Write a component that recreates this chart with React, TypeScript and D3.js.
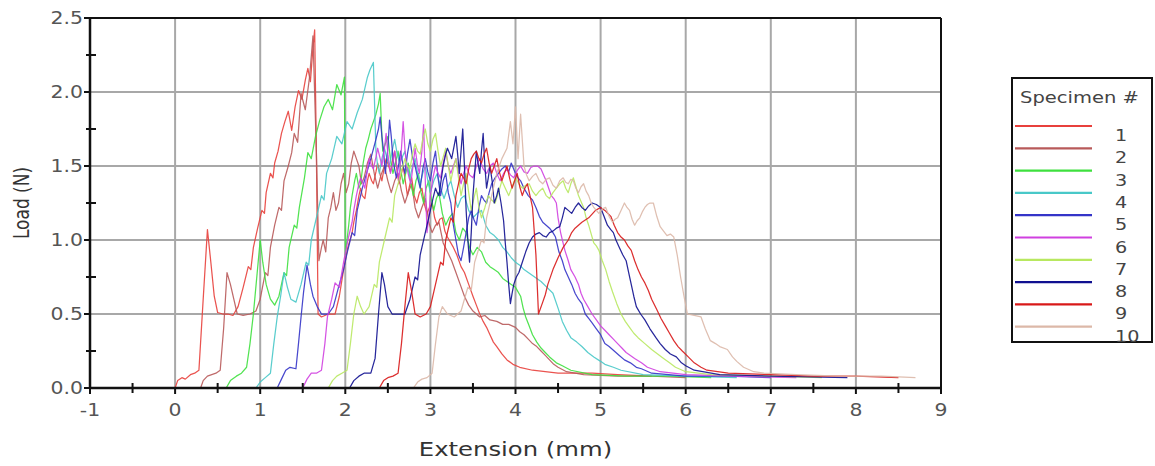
import React from "react";
import * as d3 from "d3";

const specimenLabels = ["1", "2", "3", "4", "5", "6", "7", "8", "9", "10"];
const specimenColors = ["#e8403c", "#b85a5a", "#3ee03e", "#48c8c8", "#3434c8", "#d040e0", "#b8e860", "#101090", "#d81818", "#dcb8a8"];

const xTicks = [-1, 0, 1, 2, 3, 4, 5, 6, 7, 8, 9];
const yTicks = [0, 0.5, 1.0, 1.5, 2.0, 2.5];

const spec1: [number, number][] = [[0,0.0],[0.03,0.05],[0.08,0.07],[0.12,0.06],[0.18,0.09],[0.23,0.1],[0.28,0.12],[0.33,0.6],[0.38,1.07],[0.42,0.85],[0.46,0.62],[0.5,0.51],[0.56,0.5],[0.62,0.5],[0.68,0.49],[0.74,0.55],[0.8,0.68],[0.86,0.82],[0.89,0.8],[0.92,0.95],[0.97,1.08],[1.02,1.2],[1.05,1.18],[1.07,1.32],[1.12,1.45],[1.15,1.42],[1.17,1.52],[1.21,1.6],[1.25,1.72],[1.29,1.8],[1.33,1.87],[1.37,1.74],[1.41,1.9],[1.45,2.01],[1.49,1.95],[1.53,2.08],[1.56,2.16],[1.59,2.07],[1.62,2.3],[1.64,2.42],[1.66,1.6],[1.68,0.5],[1.72,0.48],[1.8,0.5],[1.88,0.5],[1.93,0.62],[1.98,0.8],[2.03,0.95],[2.08,1.05],[2.1,1.12],[2.13,1.2],[2.16,1.3],[2.18,1.35],[2.2,1.3],[2.23,1.28],[2.26,1.4],[2.28,1.45],[2.31,1.4],[2.33,1.38],[2.36,1.46],[2.38,1.52],[2.41,1.44],[2.43,1.4],[2.46,1.5],[2.48,1.55],[2.51,1.5],[2.53,1.46],[2.56,1.55],[2.58,1.6],[2.61,1.46],[2.63,1.38],[2.66,1.45],[2.68,1.5],[2.71,1.38],[2.73,1.3],[2.76,1.38],[2.78,1.42],[2.81,1.3],[2.84,1.25],[2.87,1.32],[2.9,1.35],[2.93,1.24],[2.96,1.18],[2.99,1.22],[3.02,1.25],[3.05,1.15],[3.08,1.1],[3.11,1.14],[3.14,1.15],[3.17,1.06],[3.2,1.02],[3.27,0.95],[3.31,0.9],[3.36,0.82],[3.4,0.78],[3.45,0.7],[3.5,0.62],[3.54,0.56],[3.58,0.5],[3.62,0.45],[3.66,0.41],[3.7,0.36],[3.74,0.31],[3.78,0.28],[3.84,0.23],[3.9,0.19],[3.97,0.16],[4.05,0.14],[4.2,0.12],[4.35,0.11],[4.5,0.1],[4.7,0.1],[4.9,0.1],[5.2,0.09],[5.6,0.08]];

const spec2: [number, number][] = [[0.3,0],[0.33,0.05],[0.38,0.08],[0.43,0.09],[0.48,0.1],[0.53,0.12],[0.57,0.4],[0.61,0.78],[0.65,0.7],[0.69,0.6],[0.73,0.5],[0.8,0.49],[0.88,0.5],[0.95,0.52],[1.0,0.6],[1.06,0.78],[1.09,0.76],[1.12,0.95],[1.17,1.1],[1.22,1.22],[1.25,1.2],[1.28,1.4],[1.33,1.5],[1.37,1.59],[1.4,1.72],[1.44,1.66],[1.48,1.99],[1.53,1.88],[1.58,2.1],[1.62,2.38],[1.66,1.6],[1.69,0.86],[1.72,0.95],[1.74,1.0],[1.77,0.92],[1.8,1.15],[1.83,1.22],[1.86,1.32],[1.89,1.2],[1.92,1.25],[1.95,1.38],[1.98,1.45],[2.01,1.32],[2.04,1.38],[2.07,1.52],[2.1,1.6],[2.13,1.55],[2.16,1.5],[2.19,1.38],[2.22,1.42],[2.26,1.52],[2.3,1.58],[2.34,1.45],[2.38,1.35],[2.42,1.44],[2.46,1.5],[2.5,1.4],[2.54,1.32],[2.58,1.4],[2.62,1.45],[2.66,1.33],[2.7,1.25],[2.74,1.32],[2.78,1.38],[2.82,1.22],[2.86,1.15],[2.9,1.22],[2.94,1.28],[2.98,1.12],[3.02,1.05],[3.06,1.1],[3.1,1.12],[3.15,0.98],[3.2,0.92],[3.25,0.86],[3.3,0.78],[3.35,0.7],[3.4,0.62],[3.45,0.56],[3.5,0.52],[3.58,0.48],[3.64,0.49],[3.7,0.46],[3.78,0.45],[3.85,0.43],[3.92,0.43],[4.0,0.41],[4.05,0.38],[4.1,0.36],[4.15,0.33],[4.2,0.3],[4.25,0.28],[4.3,0.25],[4.35,0.22],[4.4,0.19],[4.45,0.16],[4.5,0.14],[4.6,0.11],[4.8,0.09],[5.2,0.08],[5.6,0.08],[6.0,0.07]];

const spec3: [number, number][] = [[0.6,0],[0.65,0.05],[0.72,0.08],[0.78,0.1],[0.84,0.14],[0.88,0.3],[0.92,0.5],[0.96,0.75],[1.0,1.0],[1.03,0.85],[1.07,0.7],[1.12,0.6],[1.17,0.56],[1.22,0.62],[1.28,0.78],[1.31,0.76],[1.34,0.95],[1.4,1.1],[1.43,1.08],[1.46,1.22],[1.52,1.42],[1.56,1.59],[1.6,1.55],[1.65,1.7],[1.7,1.81],[1.75,1.9],[1.8,1.95],[1.85,1.88],[1.9,2.05],[1.95,1.98],[1.99,2.1],[2.0,0.9],[2.02,1.0],[2.04,1.1],[2.06,1.22],[2.08,1.3],[2.11,1.4],[2.13,1.45],[2.16,1.35],[2.18,1.38],[2.21,1.52],[2.24,1.62],[2.27,1.68],[2.3,1.75],[2.33,1.8],[2.36,1.85],[2.39,1.92],[2.41,1.99],[2.43,1.7],[2.44,1.6],[2.47,1.65],[2.5,1.7],[2.53,1.55],[2.56,1.45],[2.59,1.52],[2.62,1.6],[2.65,1.48],[2.68,1.38],[2.71,1.45],[2.74,1.52],[2.77,1.38],[2.8,1.3],[2.83,1.4],[2.86,1.45],[2.89,1.32],[2.92,1.25],[2.95,1.35],[2.98,1.4],[3.01,1.28],[3.04,1.2],[3.07,1.28],[3.1,1.32],[3.14,1.18],[3.18,1.1],[3.22,1.15],[3.26,1.18],[3.3,1.05],[3.34,1.0],[3.38,1.08],[3.42,1.05],[3.46,0.95],[3.5,0.9],[3.55,0.95],[3.6,0.92],[3.65,0.85],[3.7,0.82],[3.75,0.8],[3.8,0.78],[3.85,0.74],[3.9,0.72],[3.95,0.7],[4.0,0.68],[4.06,0.62],[4.09,0.54],[4.12,0.48],[4.16,0.42],[4.2,0.36],[4.25,0.31],[4.3,0.27],[4.35,0.24],[4.4,0.21],[4.48,0.17],[4.55,0.15],[4.65,0.12],[4.9,0.09],[5.3,0.08],[5.8,0.08],[6.3,0.07]];

const spec4: [number, number][] = [[0.95,0],[1.0,0.04],[1.06,0.07],[1.12,0.1],[1.16,0.3],[1.2,0.48],[1.24,0.62],[1.28,0.78],[1.32,0.68],[1.36,0.6],[1.42,0.58],[1.48,0.7],[1.54,0.85],[1.57,0.83],[1.6,1.0],[1.66,1.15],[1.72,1.3],[1.75,1.27],[1.78,1.45],[1.84,1.55],[1.9,1.7],[1.96,1.65],[2.02,1.8],[2.08,1.75],[2.14,1.86],[2.2,1.95],[2.26,2.1],[2.29,2.15],[2.33,2.2],[2.35,1.8],[2.36,1.6],[2.38,1.5],[2.4,1.45],[2.43,1.55],[2.46,1.62],[2.49,1.55],[2.52,1.5],[2.55,1.6],[2.58,1.68],[2.61,1.58],[2.64,1.52],[2.67,1.56],[2.7,1.6],[2.73,1.5],[2.76,1.42],[2.79,1.5],[2.82,1.55],[2.85,1.45],[2.88,1.38],[2.91,1.45],[2.94,1.5],[2.97,1.4],[3.0,1.32],[3.04,1.4],[3.08,1.45],[3.12,1.35],[3.16,1.28],[3.2,1.35],[3.24,1.4],[3.28,1.3],[3.32,1.22],[3.36,1.28],[3.4,1.3],[3.45,1.2],[3.5,1.15],[3.55,1.18],[3.6,1.2],[3.65,1.1],[3.7,1.05],[3.75,1.03],[3.8,1.0],[3.85,0.95],[3.9,0.92],[3.95,0.88],[4.0,0.85],[4.05,0.83],[4.1,0.8],[4.15,0.78],[4.2,0.76],[4.25,0.74],[4.3,0.72],[4.37,0.68],[4.44,0.64],[4.5,0.54],[4.55,0.45],[4.6,0.39],[4.65,0.34],[4.72,0.31],[4.78,0.28],[4.85,0.24],[4.92,0.21],[5.0,0.18],[5.05,0.16],[5.15,0.14],[5.24,0.12],[5.5,0.09],[6.0,0.08],[6.6,0.07]];

const spec5: [number, number][] = [[1.2,0],[1.25,0.06],[1.3,0.12],[1.35,0.14],[1.42,0.13],[1.45,0.3],[1.48,0.48],[1.51,0.65],[1.55,0.83],[1.59,0.7],[1.62,0.62],[1.67,0.55],[1.72,0.5],[1.8,0.5],[1.86,0.55],[1.92,0.68],[1.98,0.8],[2.02,0.91],[2.08,1.05],[2.11,1.03],[2.14,1.2],[2.2,1.35],[2.25,1.45],[2.3,1.55],[2.36,1.68],[2.39,1.75],[2.41,1.83],[2.43,1.7],[2.45,1.6],[2.47,1.45],[2.5,1.62],[2.52,1.81],[2.54,1.7],[2.56,1.55],[2.58,1.48],[2.6,1.42],[2.63,1.52],[2.65,1.6],[2.68,1.5],[2.7,1.45],[2.73,1.58],[2.76,1.68],[2.79,1.56],[2.82,1.5],[2.85,1.42],[2.88,1.35],[2.91,1.48],[2.94,1.55],[2.97,1.46],[3.0,1.4],[3.03,1.52],[3.06,1.6],[3.09,1.42],[3.12,1.3],[3.15,1.4],[3.18,1.45],[3.21,1.32],[3.24,1.25],[3.27,1.1],[3.3,1.0],[3.33,0.9],[3.36,0.86],[3.39,0.95],[3.42,1.05],[3.45,1.15],[3.48,1.2],[3.51,1.14],[3.54,1.1],[3.57,1.22],[3.6,1.3],[3.63,1.27],[3.66,1.25],[3.69,1.32],[3.72,1.38],[3.76,1.42],[3.8,1.45],[3.84,1.48],[3.88,1.5],[3.92,1.46],[3.95,1.52],[4.0,1.45],[4.03,1.42],[4.06,1.4],[4.1,1.35],[4.15,1.3],[4.2,1.27],[4.24,1.22],[4.28,1.16],[4.32,1.12],[4.36,1.1],[4.4,1.08],[4.44,1.05],[4.47,1.02],[4.51,0.92],[4.55,0.86],[4.58,0.8],[4.62,0.75],[4.66,0.7],[4.7,0.64],[4.74,0.6],[4.78,0.57],[4.82,0.5],[4.86,0.47],[4.9,0.44],[4.95,0.4],[5.0,0.36],[5.05,0.3],[5.1,0.28],[5.16,0.25],[5.22,0.22],[5.28,0.19],[5.35,0.17],[5.42,0.14],[5.48,0.13],[5.6,0.1],[6.0,0.08],[6.5,0.08],[7.0,0.07]];

const spec6: [number, number][] = [[1.5,0],[1.55,0.06],[1.6,0.1],[1.66,0.1],[1.72,0.12],[1.76,0.3],[1.79,0.48],[1.84,0.6],[1.88,0.71],[1.93,0.68],[1.98,0.85],[2.03,1.0],[2.08,1.12],[2.1,1.2],[2.13,1.3],[2.16,1.38],[2.18,1.42],[2.21,1.38],[2.23,1.35],[2.26,1.48],[2.28,1.55],[2.31,1.5],[2.33,1.48],[2.36,1.56],[2.38,1.62],[2.41,1.55],[2.43,1.5],[2.46,1.62],[2.48,1.72],[2.5,1.58],[2.53,1.45],[2.56,1.52],[2.58,1.6],[2.61,1.48],[2.63,1.4],[2.66,1.62],[2.68,1.8],[2.7,1.62],[2.72,1.5],[2.75,1.42],[2.77,1.38],[2.8,1.52],[2.82,1.62],[2.85,1.5],[2.87,1.45],[2.9,1.6],[2.92,1.78],[2.94,1.4],[2.96,1.05],[2.98,1.15],[3.0,1.3],[3.03,1.42],[3.06,1.5],[3.09,1.45],[3.12,1.42],[3.15,1.52],[3.18,1.6],[3.21,1.5],[3.24,1.45],[3.27,1.5],[3.3,1.55],[3.33,1.45],[3.36,1.38],[3.39,1.45],[3.42,1.5],[3.46,1.44],[3.5,1.42],[3.54,1.5],[3.58,1.55],[3.62,1.48],[3.66,1.45],[3.7,1.5],[3.74,1.52],[3.78,1.45],[3.82,1.4],[3.86,1.45],[3.9,1.48],[3.94,1.44],[3.98,1.42],[4.02,1.47],[4.06,1.5],[4.1,1.46],[4.14,1.45],[4.18,1.49],[4.22,1.5],[4.26,1.5],[4.3,1.48],[4.33,1.44],[4.36,1.4],[4.39,1.35],[4.42,1.3],[4.45,1.28],[4.48,1.25],[4.5,1.15],[4.53,1.05],[4.58,0.93],[4.62,0.86],[4.65,0.8],[4.7,0.75],[4.74,0.7],[4.77,0.64],[4.8,0.6],[4.85,0.55],[4.9,0.5],[4.95,0.46],[5.0,0.42],[5.05,0.39],[5.1,0.36],[5.15,0.33],[5.2,0.3],[5.25,0.27],[5.3,0.24],[5.35,0.22],[5.4,0.2],[5.48,0.17],[5.55,0.14],[5.7,0.11],[6.0,0.09],[6.6,0.08],[7.3,0.07]];

const spec7: [number, number][] = [[1.8,0],[1.85,0.05],[1.9,0.08],[1.96,0.1],[2.02,0.12],[2.06,0.3],[2.1,0.5],[2.14,0.62],[2.18,0.55],[2.22,0.5],[2.28,0.55],[2.34,0.7],[2.37,0.68],[2.4,0.85],[2.46,1.0],[2.52,1.15],[2.55,1.12],[2.58,1.3],[2.64,1.42],[2.7,1.55],[2.73,1.5],[2.76,1.48],[2.79,1.58],[2.82,1.65],[2.85,1.6],[2.88,1.58],[2.91,1.68],[2.94,1.75],[2.97,1.65],[3.0,1.6],[3.03,1.68],[3.06,1.72],[3.09,1.6],[3.12,1.5],[3.15,1.56],[3.18,1.62],[3.21,1.5],[3.24,1.4],[3.27,1.48],[3.3,1.55],[3.33,1.42],[3.36,1.3],[3.39,1.38],[3.42,1.45],[3.45,1.32],[3.48,1.2],[3.51,1.28],[3.54,1.35],[3.57,1.22],[3.6,1.15],[3.64,1.22],[3.68,1.3],[3.72,1.27],[3.76,1.25],[3.8,1.32],[3.84,1.4],[3.88,1.35],[3.92,1.3],[3.96,1.36],[4.0,1.42],[4.04,1.38],[4.08,1.35],[4.12,1.37],[4.16,1.38],[4.2,1.33],[4.24,1.3],[4.28,1.33],[4.32,1.35],[4.36,1.3],[4.4,1.28],[4.44,1.32],[4.48,1.35],[4.52,1.38],[4.56,1.4],[4.59,1.35],[4.62,1.32],[4.65,1.38],[4.68,1.42],[4.71,1.36],[4.74,1.3],[4.77,1.26],[4.8,1.22],[4.83,1.15],[4.86,1.1],[4.89,1.04],[4.92,0.98],[4.95,0.96],[4.98,0.93],[5.02,0.86],[5.06,0.8],[5.1,0.72],[5.14,0.65],[5.19,0.57],[5.24,0.5],[5.29,0.45],[5.34,0.41],[5.39,0.37],[5.44,0.34],[5.52,0.3],[5.6,0.26],[5.67,0.23],[5.74,0.2],[5.81,0.17],[5.88,0.14],[6.0,0.11],[6.3,0.09],[7.0,0.08],[7.6,0.07]];

const spec8: [number, number][] = [[2.05,0],[2.1,0.05],[2.16,0.08],[2.22,0.1],[2.3,0.1],[2.35,0.2],[2.39,0.5],[2.43,0.78],[2.46,0.7],[2.5,0.55],[2.55,0.5],[2.62,0.5],[2.7,0.5],[2.76,0.6],[2.82,0.75],[2.85,0.73],[2.88,0.9],[2.94,1.05],[3.0,1.2],[3.03,1.28],[3.06,1.35],[3.08,1.32],[3.1,1.3],[3.13,1.42],[3.15,1.5],[3.18,1.58],[3.2,1.62],[3.23,1.58],[3.25,1.55],[3.28,1.64],[3.3,1.7],[3.32,1.58],[3.34,1.45],[3.36,1.6],[3.38,1.75],[3.4,1.5],[3.42,1.2],[3.44,1.0],[3.46,0.85],[3.48,1.05],[3.5,1.3],[3.52,1.45],[3.54,1.6],[3.56,1.52],[3.58,1.45],[3.6,1.6],[3.62,1.72],[3.64,1.5],[3.66,1.35],[3.68,1.42],[3.7,1.5],[3.73,1.38],[3.75,1.25],[3.78,1.3],[3.8,1.35],[3.83,1.25],[3.86,1.13],[3.88,0.98],[3.9,0.85],[3.92,0.7],[3.94,0.57],[3.96,0.64],[3.98,0.7],[4.01,0.75],[4.04,0.78],[4.08,0.85],[4.12,0.92],[4.16,0.98],[4.2,1.02],[4.24,1.04],[4.28,1.05],[4.32,1.03],[4.36,1.02],[4.4,1.05],[4.44,1.06],[4.48,1.08],[4.52,1.09],[4.55,1.15],[4.58,1.22],[4.62,1.2],[4.66,1.18],[4.7,1.22],[4.74,1.25],[4.78,1.22],[4.82,1.2],[4.86,1.23],[4.9,1.25],[4.95,1.24],[5.0,1.22],[5.04,1.16],[5.08,1.1],[5.12,1.07],[5.15,1.05],[5.18,1.0],[5.22,0.95],[5.26,0.9],[5.3,0.86],[5.33,0.78],[5.36,0.7],[5.39,0.62],[5.42,0.55],[5.47,0.5],[5.52,0.46],[5.58,0.4],[5.65,0.34],[5.7,0.3],[5.76,0.26],[5.82,0.23],[5.89,0.21],[5.95,0.17],[6.0,0.15],[6.1,0.12],[6.4,0.09],[7.0,0.08],[7.9,0.07]];

const spec9: [number, number][] = [[2.4,0],[2.45,0.05],[2.5,0.07],[2.56,0.08],[2.62,0.1],[2.66,0.3],[2.7,0.55],[2.74,0.78],[2.78,0.65],[2.82,0.5],[2.88,0.48],[2.95,0.5],[3.0,0.55],[3.06,0.7],[3.12,0.85],[3.15,0.83],[3.18,1.0],[3.24,1.15],[3.27,1.12],[3.3,1.3],[3.33,1.38],[3.36,1.45],[3.39,1.42],[3.42,1.38],[3.45,1.48],[3.48,1.55],[3.51,1.58],[3.54,1.6],[3.57,1.55],[3.6,1.52],[3.63,1.58],[3.66,1.62],[3.69,1.52],[3.72,1.45],[3.75,1.5],[3.78,1.55],[3.81,1.46],[3.84,1.4],[3.87,1.45],[3.9,1.5],[3.93,1.42],[3.96,1.35],[3.99,1.4],[4.02,1.45],[4.05,1.36],[4.08,1.3],[4.11,1.35],[4.14,1.38],[4.17,1.3],[4.2,1.22],[4.24,0.9],[4.27,0.5],[4.32,0.58],[4.35,0.63],[4.38,0.7],[4.44,0.8],[4.5,0.88],[4.56,0.95],[4.62,1.0],[4.66,1.05],[4.7,1.08],[4.78,1.12],[4.86,1.15],[4.94,1.2],[5.0,1.22],[5.05,1.2],[5.12,1.16],[5.16,1.1],[5.2,1.05],[5.24,1.02],[5.28,1.0],[5.32,0.96],[5.36,0.93],[5.4,0.86],[5.44,0.8],[5.48,0.75],[5.52,0.71],[5.56,0.66],[5.6,0.6],[5.66,0.53],[5.71,0.47],[5.76,0.42],[5.81,0.37],[5.86,0.32],[5.91,0.28],[5.96,0.25],[6.03,0.21],[6.1,0.17],[6.18,0.14],[6.25,0.12],[6.5,0.1],[7.0,0.09],[7.5,0.08],[8.0,0.08],[8.5,0.07]];

const spec10: [number, number][] = [[2.8,0],[2.85,0.04],[2.9,0.06],[2.96,0.07],[3.02,0.1],[3.06,0.3],[3.1,0.48],[3.14,0.55],[3.2,0.5],[3.28,0.48],[3.36,0.52],[3.44,0.68],[3.48,0.66],[3.52,0.85],[3.6,1.0],[3.63,0.98],[3.66,1.15],[3.72,1.3],[3.78,1.45],[3.84,1.55],[3.9,1.62],[3.94,1.8],[3.97,1.65],[4.0,1.9],[4.03,1.55],[4.06,1.85],[4.1,1.5],[4.13,1.44],[4.16,1.4],[4.2,1.43],[4.24,1.45],[4.28,1.4],[4.32,1.38],[4.36,1.41],[4.4,1.42],[4.44,1.37],[4.48,1.35],[4.52,1.4],[4.56,1.42],[4.59,1.39],[4.62,1.38],[4.65,1.41],[4.68,1.4],[4.71,1.35],[4.74,1.32],[4.77,1.36],[4.8,1.38],[4.83,1.33],[4.86,1.3],[4.89,1.25],[4.92,1.22],[4.95,1.2],[4.98,1.18],[5.02,1.21],[5.06,1.22],[5.1,1.16],[5.14,1.12],[5.17,1.14],[5.2,1.15],[5.24,1.2],[5.28,1.25],[5.31,1.22],[5.34,1.2],[5.37,1.14],[5.4,1.1],[5.43,1.13],[5.46,1.15],[5.49,1.19],[5.52,1.22],[5.55,1.24],[5.58,1.25],[5.62,1.25],[5.66,1.16],[5.7,1.09],[5.74,1.06],[5.78,1.03],[5.82,1.04],[5.86,1.02],[5.9,0.9],[5.94,0.75],[5.98,0.62],[6.02,0.5],[6.1,0.49],[6.18,0.48],[6.23,0.4],[6.29,0.32],[6.35,0.3],[6.4,0.28],[6.49,0.26],[6.55,0.21],[6.6,0.18],[6.68,0.14],[6.8,0.11],[6.92,0.1],[7.3,0.09],[7.8,0.08],[8.3,0.08],[8.7,0.07]];

const allSpecimens = [spec1, spec2, spec3, spec4, spec5, spec6, spec7, spec8, spec9, spec10];

const W = 1155;
const H = 466;
const plotLeft = 90;
const plotRight = 941;
const plotTop = 18;
const plotBottom = 388;

const TICK_FONT = "DejaVu Sans, Verdana, sans-serif";

export default function App() {
  const x = d3.scaleLinear().domain([-1, 9]).range([plotLeft, plotRight]);
  const y = d3.scaleLinear().domain([0, 2.5]).range([plotBottom, plotTop]);
  const line = d3.line<[number, number]>().x((d) => x(d[0])).y((d) => y(d[1]));

  const xMinor = d3.range(-0.5, 9, 1);
  const yMinor = d3.range(0.25, 2.5, 0.5);
  const gridX = xTicks.filter((v) => v > -1 && v < 9);
  const gridY = yTicks.filter((v) => v > 0 && v < 2.5);

  const legX = 1012;
  const legY = 78;
  const legW = 140;
  const legH = 264;

  return (
    <svg width={W} height={H} style={{ position: "absolute", left: 0, top: 0, background: "#fff" }}>
      <rect x={0} y={0} width={W} height={H} fill="#fff" />
      <defs>
        <clipPath id="plotclip">
          <rect x={plotLeft} y={plotTop - 2} width={plotRight - plotLeft} height={plotBottom - plotTop + 2} />
        </clipPath>
      </defs>
      {gridX.map((v) => (
        <line key={"gx" + v} x1={x(v)} x2={x(v)} y1={plotTop} y2={plotBottom} stroke="#a8a8a8" strokeWidth={2} />
      ))}
      {gridY.map((v) => (
        <line key={"gy" + v} x1={plotLeft} x2={plotRight} y1={y(v)} y2={y(v)} stroke="#a8a8a8" strokeWidth={2} />
      ))}
      <g clipPath="url(#plotclip)">
        {allSpecimens.map((s, i) => (
          <path key={"s" + i} d={line(s) || ""} fill="none" stroke={specimenColors[i]} strokeWidth={1.25} strokeLinejoin="round" opacity={0.9} />
        ))}
      </g>
      <line x1={plotLeft} x2={plotRight} y1={plotTop} y2={plotTop} stroke="#111" strokeWidth={2} />
      <line x1={plotRight} x2={plotRight} y1={plotTop} y2={plotBottom} stroke="#111" strokeWidth={2} />
      <line x1={plotLeft} x2={plotRight} y1={plotBottom} y2={plotBottom} stroke="#111" strokeWidth={2.5} />
      <line x1={plotLeft} x2={plotLeft} y1={plotTop} y2={plotBottom} stroke="#111" strokeWidth={2.5} />
      {yTicks.map((v) => (
        <line key={"yt" + v} x1={plotLeft - 6} x2={plotLeft} y1={y(v)} y2={y(v)} stroke="#111" strokeWidth={2} />
      ))}
      {yMinor.map((v) => (
        <line key={"ym" + v} x1={plotLeft - 4} x2={plotLeft + 6} y1={y(v)} y2={y(v)} stroke="#111" strokeWidth={2} />
      ))}
      {xTicks.map((v) => (
        <line key={"xt" + v} x1={x(v)} x2={x(v)} y1={plotBottom} y2={plotBottom + 6} stroke="#111" strokeWidth={2} />
      ))}
      {xMinor.map((v) => (
        <line key={"xm" + v} x1={x(v)} x2={x(v)} y1={plotBottom - 5} y2={plotBottom + 5} stroke="#111" strokeWidth={2} />
      ))}
      {yTicks.map((v) => (
        <text key={"yl" + v} transform={`translate(${plotLeft - 7},${y(v) + 6}) scale(1.2,1)`} textAnchor="end" fontFamily={TICK_FONT} fontSize={17} fill="#555">
          {v.toFixed(1)}
        </text>
      ))}
      {xTicks.map((v) => (
        <text key={"xl" + v} transform={`translate(${x(v)},${plotBottom + 28}) scale(1.2,1)`} textAnchor="middle" fontFamily={TICK_FONT} fontSize={17} fill="#555">
          {String(v)}
        </text>
      ))}
      <text transform={`translate(${x(4)},${456}) scale(1.28,1)`} textAnchor="middle" fontFamily={TICK_FONT} fontSize={19} fill="#333">
        Extension (mm)
      </text>
      <text transform={`translate(${29},${(plotTop + plotBottom) / 2}) rotate(-90) scale(1,1.28)`} textAnchor="middle" fontFamily={TICK_FONT} fontSize={17} fill="#333">
        Load (N)
      </text>
      <rect x={legX} y={legY} width={legW} height={legH} fill="#fff" stroke="#111" strokeWidth={2} />
      <text transform={`translate(${legX + 8},${legY + 25}) scale(1.22,1)`} fontFamily={TICK_FONT} fontSize={16} fill="#444">
        Specimen #
      </text>
      {specimenLabels.map((lab, i) => {
        const ly = legY + 48 + i * 22.3;
        return (
          <g key={"lg" + i}>
            <line x1={legX + 3} x2={legX + 80} y1={ly} y2={ly} stroke={specimenColors[i]} strokeWidth={2.2} />
            <text transform={`translate(${legX + 103},${ly + 15}) scale(1.2,1)`} fontFamily={TICK_FONT} fontSize={16} fill="#444">
              {lab}
            </text>
          </g>
        );
      })}
    </svg>
  );
}
